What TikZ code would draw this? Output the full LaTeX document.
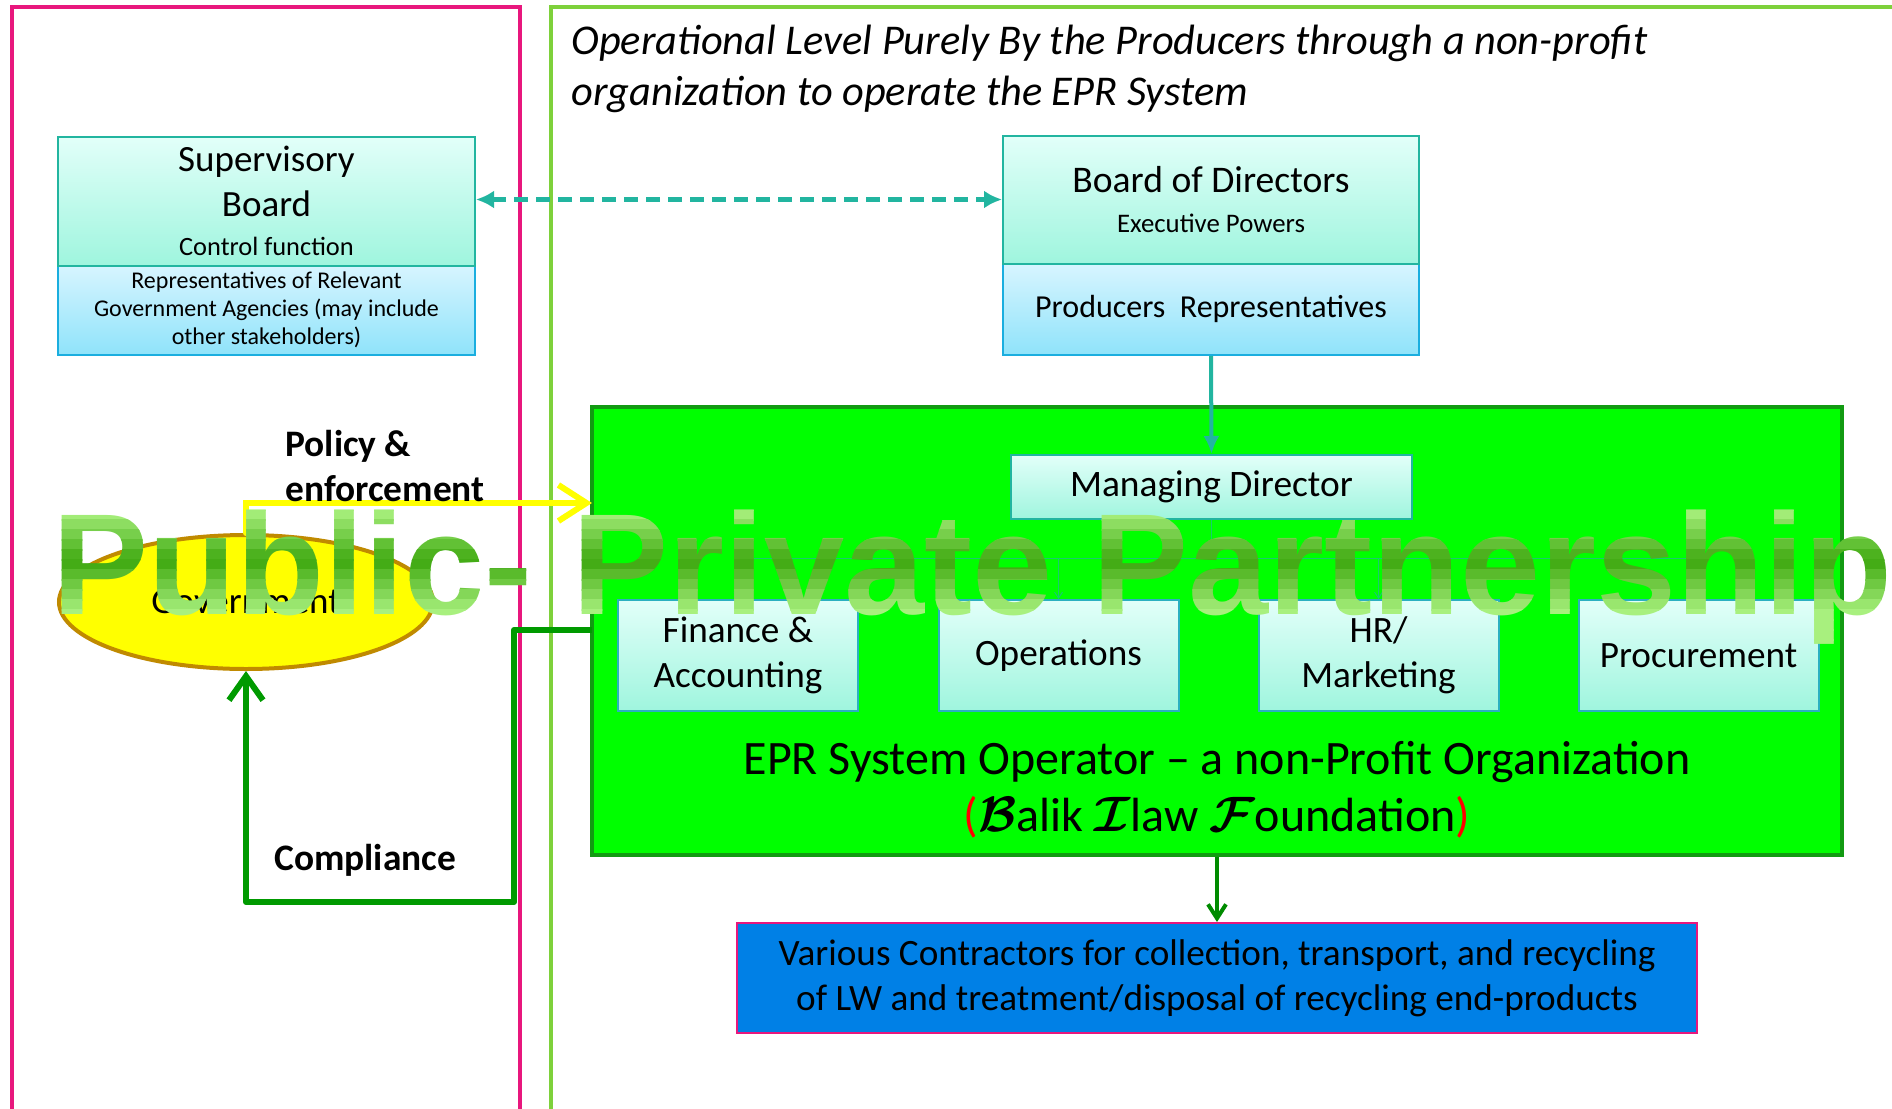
\documentclass[tikz,border=0pt]{standalone}
\usepackage{amsmath,amssymb}
\usepackage{fontspec}
\setmainfont{Carlito}
\newfontfamily\wmfont{Liberation Sans}
\usepackage{xcolor}
\usepackage{tikz}
\usetikzlibrary{shapes,arrows,positioning,calc,arrows.meta}

\definecolor{pinkframe}{HTML}{E8177D}
\definecolor{limeframe}{HTML}{7ED13B}
\definecolor{tealline}{HTML}{22B5A0}
\definecolor{skyline}{HTML}{1AAEDF}
\definecolor{unitline}{HTML}{2BB0C0}
\definecolor{mintlight}{HTML}{E2FFF9}
\definecolor{mintdark}{HTML}{9FF5DE}
\definecolor{skylight}{HTML}{D8F5FF}
\definecolor{skydark}{HTML}{8FE3FA}
\definecolor{eprgreen}{HTML}{00FF00}
\definecolor{eprborder}{HTML}{129A12}
\definecolor{darkgreen}{HTML}{009A00}
\definecolor{contractblue}{HTML}{0080E6}
\definecolor{govyellow}{HTML}{FFFF00}
\definecolor{govborder}{HTML}{C08A00}
\definecolor{wmlight}{HTML}{A8F07E}
\definecolor{wmdark}{HTML}{3EA80F}

\begin{document}
\begin{tikzpicture}[x=0.5pt, y=-0.5pt,
    uppbox/.style={draw=tealline, line width=1pt, top color=mintlight, bottom color=mintdark, align=center, inner sep=0pt},
    lowbox/.style={draw=skyline, line width=1pt, top color=skylight, bottom color=skydark, align=center, inner sep=0pt},
    unitbox/.style={draw=unitline, line width=1pt, top color=mintlight, bottom color=mintdark, align=center, inner sep=0pt,
        minimum width=120pt, minimum height=55.5pt, font=\fontsize{18.6}{22.5}\selectfont},
    unitlink/.style={draw=tealline!70!green, line width=0.5pt},
    dasharrow/.style={tealline, line width=2.5pt, dash pattern=on 7pt off 4pt, {Latex[length=9pt,width=9pt]}-{Latex[length=9pt,width=9pt]}},
    tealarrow/.style={tealline, line width=2pt, -{Latex[length=9pt,width=8pt]}},
    greenarrow/.style={darkgreen!90!black, line width=2pt, -{Straight Barb[length=7pt,width=9pt]}},
    policyarrow/.style={govyellow, line width=3pt, line cap=round, -{Straight Barb[length=14pt,width=18pt]}},
    complarrow/.style={darkgreen, line width=3pt, line join=round, -{Straight Barb[length=12pt,width=17pt]}},
    boldlabel/.style={anchor=west, align=left, inner sep=0pt, font=\fontsize{18.7}{22.5}\selectfont\bfseries}]

    % Canvas
    \fill[white] (0,0) rectangle (1892,1109);
    \useasboundingbox (0,0) rectangle (1892,1109);

    % Frames
    \draw[pinkframe, line width=2pt] (12,1120) -- (12,7) -- (520,7) -- (520,1120);
    \draw[limeframe, line width=2pt] (551,1120) -- (551,7) -- (1900,7);

    % Heading
    \node[anchor=west, align=left, inner sep=0pt, font=\fontsize{21.2}{25.5}\selectfont\itshape] (head) at (571,69)
        {Operational Level Purely By the Producers through a non-profit\\organization to operate the EPR System};

    % Supervisory board
    \node[lowbox, minimum width=208.5pt, minimum height=45.5pt, font=\fontsize{12}{14}\selectfont] (suplow) at (266.5,309.5)
        {Representatives of Relevant\\Government Agencies (may include\\other stakeholders)};
    \node[uppbox, minimum width=208.5pt, minimum height=64.5pt, font=\fontsize{18.5}{22.5}\selectfont] (supup) at (266.5,201)
        {Supervisory\\Board\\[-3pt]{\fontsize{13.2}{16}\selectfont Control function}};

    % Board of directors
    \node[lowbox, minimum width=208pt, minimum height=46pt, font=\fontsize{16}{18}\selectfont] (bodlow) at (1211,309)
        {Producers\ \ Representatives};
    \node[uppbox, minimum width=208pt, minimum height=64pt, font=\fontsize{18.8}{22}\selectfont] (bodup) at (1211,199.5)
        {Board of Directors\\[-2pt]{\fontsize{13.4}{16}\selectfont Executive Powers}};

    % EPR operator
    \node[draw=eprborder, line width=2pt, fill=eprgreen, minimum width=625pt, minimum height=224pt, inner sep=0pt] (epr) at (1217,631) {};
    \node[align=center, inner sep=0pt, font=\fontsize{24}{28.5}\selectfont] (eprlabel) at (1217,790)
        {EPR System Operator – a non-Profit Organization\\
         {\color{red}(}$\boldsymbol{\mathcal{B}}$alik $\boldsymbol{\mathcal{I}}$law $\boldsymbol{\mathcal{F}}$oundation{\color{red})}};

    % Managing director and units
    \node[uppbox, minimum width=200.5pt, minimum height=32pt, font=\fontsize{18.7}{21}\selectfont] (md) at (1211.5,487) {Managing Director};
    \node[unitbox] (fin) at (738,655.5) {Finance \&\\Accounting};
    \node[unitbox] (ops) at (1058.5,655.5) {Operations};
    \node[unitbox] (hrm) at (1378.5,655.5) {HR/\\Marketing};
    \node[unitbox] (proc) at (1698.5,655.5) {Procurement};

    \coordinate (split) at (1211.5,558);
    \draw[unitlink] (md.south) -- (split);
    \draw[unitlink] (split -| fin.north) -- (split -| proc.north);
    \foreach \u in {fin,ops,hrm,proc}
        \draw[unitlink, -{Straight Barb[length=3pt,width=4pt]}] (split -| \u.north) -- (\u.north);

    % Contractors
    \node[draw=pinkframe, line width=1pt, fill=contractblue, minimum width=480pt, minimum height=55pt, inner sep=0pt,
        align=center, font=\fontsize{18.6}{22.5}\selectfont] (contr) at (1217,978)
        {Various Contractors for collection, transport, and recycling\\of LW and treatment/disposal of recycling end-products};

    % Government
    \node[ellipse, draw=govborder, line width=2pt, fill=govyellow, minimum width=187pt, minimum height=67pt,
        font=\fontsize{18.5}{22}\selectfont] (gov) at (246,602) {Government};

    % Arrows
    \draw[dasharrow] (supup.east |- bodup.west) -- (bodup.west);
    \draw[tealarrow] (bodlow.south) -- (md.north);
    \draw[greenarrow] (epr.south) -- (contr.north);
    \coordinate (policyend) at (592,503);
    \draw[policyarrow] (gov.north) |- (policyend);
    \coordinate (complstart) at (592,630);
    \draw[complarrow] (complstart) -| (514,902) -| (gov.south);

    % Labels
    \node[boldlabel] (policy) at (285,466) {Policy \&\\enforcement};
    \node[boldlabel] (compl) at (274,860) {Compliance};

    % Banner
    \foreach \yb in {500,510,...,640} {
        \pgfmathsetmacro\wmmix{min(100,abs(\yb+5-562)/50*100)}
        \begin{scope}
            \clip (0,\yb-0.6) rectangle (1892,\yb+10.6);
            \node[anchor=base west, inner sep=0pt, text=wmlight!\wmmix!wmdark,
                font=\wmfont\bfseries\fontsize{72}{72}\selectfont] (banner) at (52,614) {Public- Private Partnership};
        \end{scope}
    }
\end{tikzpicture}
\end{document}
